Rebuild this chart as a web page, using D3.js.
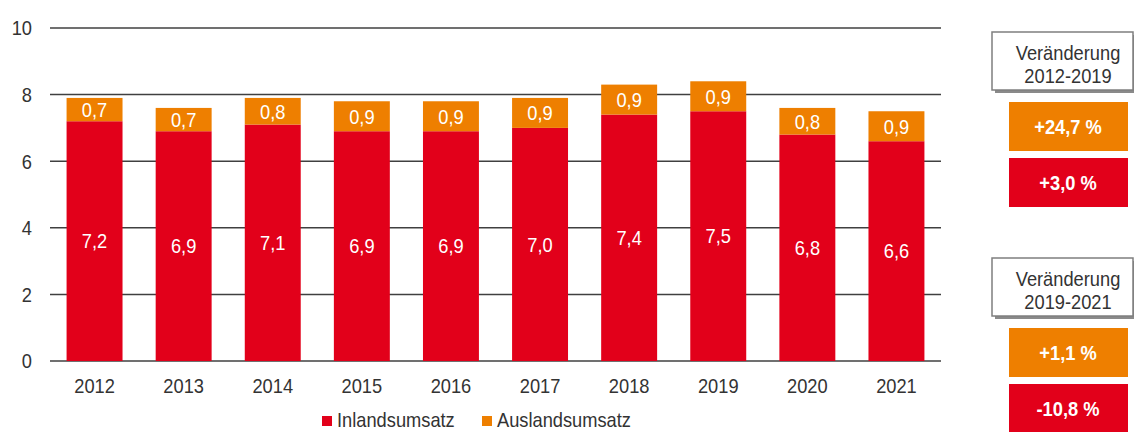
<!DOCTYPE html>
<html>
<head>
<meta charset="utf-8">
<script src="https://cdn.jsdelivr.net/npm/d3@7"></script>
<style>
    body { margin: 0; background: #fff; }
    svg text { font-family: "Liberation Sans", Arial, sans-serif; }
</style>
</head>
<body>
<script>
(function () {
    "use strict";

    // data
    var years = ["2012", "2013", "2014", "2015", "2016", "2017", "2018", "2019", "2020", "2021"];
    var inland = [7.2, 6.9, 7.1, 6.9, 6.9, 7.0, 7.4, 7.5, 6.8, 6.6];
    var ausland = [0.7, 0.7, 0.8, 0.9, 0.9, 0.9, 0.9, 0.9, 0.8, 0.9];
    var yTicks = [0, 2, 4, 6, 8, 10];
    var seriesNames = ["Inlandsumsatz", "Auslandsumsatz"];
    var changeTitles = [["Veränderung", "2012-2019"], ["Veränderung", "2019-2021"]];
    var changeAusland = ["+24,7 %", "+1,1 %"];
    var changeInland = ["+3,0 %", "-10,8 %"];

    var RED = "#e2001a";
    var ORANGE = "#ee7f00";
    var GRID = "#404040";
    var TEXT = "#333333";
    var FONT = 21;
    var SQUEEZE = 0.87; // the reference text is a narrow sans

    var width = 1134, height = 432;

    var svg = d3.select("body").append("svg")
        .attr("width", width)
        .attr("height", height);

    var x = d3.scaleBand()
        .domain(years)
        .range([50, 941])
        .paddingInner(0.372)
        .paddingOuter(0.186);

    var y = d3.scaleLinear()
        .domain([0, 10])
        .range([361, 28]);

    var fmt = function (v) {
        return d3.format(".1f")(v).replace(".", ",");
    };

    // place text at (tx, ty), horizontally squeezed
    var place = function (tx, ty) {
        return "translate(" + tx + "," + ty + ") scale(" + SQUEEZE + ",1)";
    };

    // gridlines
    svg.append("g").selectAll("line")
        .data(yTicks)
        .join("line")
        .attr("x1", 50)
        .attr("x2", 941)
        .attr("y1", function (d) { return y(d); })
        .attr("y2", function (d) { return y(d); })
        .attr("stroke", GRID)
        .attr("stroke-width", 1.5);

    // y tick labels
    svg.append("g").selectAll("text")
        .data(yTicks)
        .join("text")
        .attr("transform", function (d) { return place(32, y(d)); })
        .attr("dy", "0.35em")
        .attr("text-anchor", "end")
        .attr("font-size", FONT)
        .attr("fill", TEXT)
        .text(function (d) { return d; });

    var rows = years.map(function (yr, i) {
        return {year: yr, inland: inland[i], ausland: ausland[i]};
    });

    // inland bars
    var bars = svg.append("g");
    bars.selectAll("rect.inland")
        .data(rows)
        .join("rect")
        .attr("class", "inland")
        .attr("x", function (d) { return x(d.year); })
        .attr("width", x.bandwidth())
        .attr("y", function (d) { return y(d.inland); })
        .attr("height", function (d) { return y(0) - y(d.inland); })
        .attr("fill", RED);

    // ausland bars stacked on top
    bars.selectAll("rect.ausland")
        .data(rows)
        .join("rect")
        .attr("class", "ausland")
        .attr("x", function (d) { return x(d.year); })
        .attr("width", x.bandwidth())
        .attr("y", function (d) { return y(d.inland + d.ausland); })
        .attr("height", function (d) { return y(d.inland) - y(d.inland + d.ausland); })
        .attr("fill", ORANGE);

    // value labels
    var labels = svg.append("g")
        .attr("text-anchor", "middle")
        .attr("font-size", FONT)
        .attr("fill", "#fff");

    labels.selectAll("text.inland")
        .data(rows)
        .join("text")
        .attr("class", "inland")
        .attr("transform", function (d) {
            return place(x(d.year) + x.bandwidth() / 2, (y(0) + y(d.inland)) / 2);
        })
        .attr("dy", "0.35em")
        .text(function (d) { return fmt(d.inland); });

    labels.selectAll("text.ausland")
        .data(rows)
        .join("text")
        .attr("class", "ausland")
        .attr("transform", function (d) {
            return place(x(d.year) + x.bandwidth() / 2, (y(d.inland) + y(d.inland + d.ausland)) / 2);
        })
        .attr("dy", "0.35em")
        .text(function (d) { return fmt(d.ausland); });

    // x axis labels
    svg.append("g").selectAll("text")
        .data(years)
        .join("text")
        .attr("transform", function (d) { return place(x(d) + x.bandwidth() / 2, 393); })
        .attr("text-anchor", "middle")
        .attr("font-size", FONT)
        .attr("fill", TEXT)
        .text(function (d) { return d; });

    // legend
    var legend = svg.append("g");
    var legendX = [322, 482];
    var legendColors = [RED, ORANGE];
    seriesNames.forEach(function (name, i) {
        legend.append("rect")
            .attr("x", legendX[i])
            .attr("y", 416)
            .attr("width", 10)
            .attr("height", 10)
            .attr("fill", legendColors[i]);
        legend.append("text")
            .attr("transform", place(legendX[i] + 15, 427))
            .attr("font-size", FONT)
            .attr("fill", TEXT)
            .text(name);
    });

    // change boxes on the right
    var panelTop = [32, 258];
    panelTop.forEach(function (top, i) {
        var g = svg.append("g");

        // header with shadow
        g.append("rect")
            .attr("x", 995)
            .attr("y", top + 3)
            .attr("width", 142)
            .attr("height", 58)
            .attr("fill", "#8a8a8a");
        g.append("rect")
            .attr("x", 992)
            .attr("y", top)
            .attr("width", 141)
            .attr("height", 58)
            .attr("fill", "#fff")
            .attr("stroke", "#7f7f7f")
            .attr("stroke-width", 1.5);
        changeTitles[i].forEach(function (line, j) {
            g.append("text")
                .attr("transform", place(1068, top + 28 + j * 23))
                .attr("text-anchor", "middle")
                .attr("font-size", FONT)
                .attr("fill", TEXT)
                .text(line);
        });

        var boxes = [
            {y: top + 70, color: ORANGE, label: changeAusland[i]},
            {y: top + 126, color: RED, label: changeInland[i]}
        ];
        boxes.forEach(function (b) {
            g.append("rect")
                .attr("x", 1009)
                .attr("y", b.y)
                .attr("width", 119)
                .attr("height", 49)
                .attr("fill", b.color);
            g.append("text")
                .attr("transform", place(1068, b.y + 25))
                .attr("dy", "0.35em")
                .attr("text-anchor", "middle")
                .attr("font-size", FONT)
                .attr("font-weight", "bold")
                .attr("fill", "#fff")
                .text(b.label);
        });
    });
})();
</script>
</body>
</html>
